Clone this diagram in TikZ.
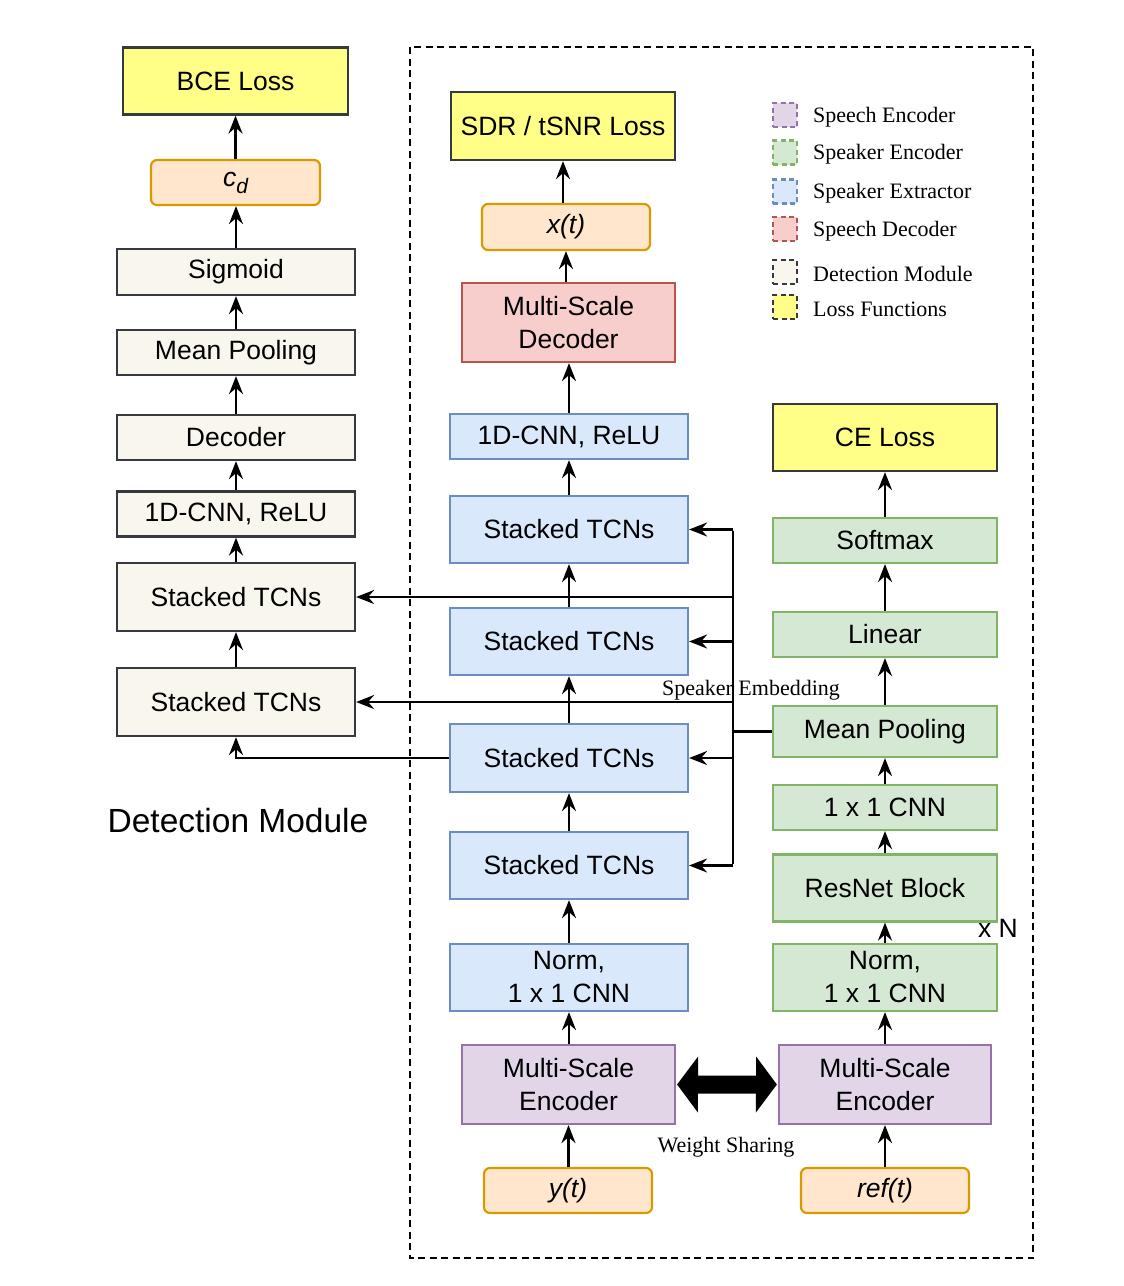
\documentclass[tikz,border=0pt]{standalone}
\usepackage{fontspec}
\setmainfont{Liberation Serif}
\setsansfont{Liberation Sans}
\usetikzlibrary{arrows.meta,calc}
\definecolor{ylwF}{HTML}{FFFF88}
\definecolor{ylwD}{HTML}{36393D}
\definecolor{orgF}{HTML}{FFE6CC}
\definecolor{orgD}{HTML}{D79B00}
\definecolor{detF}{HTML}{F9F7ED}
\definecolor{detD}{HTML}{36393D}
\definecolor{bluF}{HTML}{DAE8FC}
\definecolor{bluD}{HTML}{6C8EBF}
\definecolor{redF}{HTML}{F8CECC}
\definecolor{redD}{HTML}{B85450}
\definecolor{grnF}{HTML}{D5E8D4}
\definecolor{grnD}{HTML}{82B366}
\definecolor{purF}{HTML}{E1D5E7}
\definecolor{purD}{HTML}{9673A6}
\begin{document}
\begin{tikzpicture}[x=1pt,y=-1pt,
  blk/.style={draw, line width=2.2pt, inner sep=0pt, align=center,
    font=\sffamily\fontsize{26.5}{33}\selectfont},
  loss/.style={blk, fill=ylwF, draw=ylwD},
  sig/.style={blk, fill=orgF, draw=orgD, rounded corners=6pt, font=\sffamily\itshape\fontsize{26.5}{33}\selectfont},
  det/.style={blk, fill=detF, draw=detD},
  ext/.style={blk, fill=bluF, draw=bluD},
  dec/.style={blk, fill=redF, draw=redD},
  spk/.style={blk, fill=grnF, draw=grnD},
  enc/.style={blk, fill=purF, draw=purD},
  arr/.style={line width=2.4pt, -{Stealth[length=18pt,width=14pt,inset=6pt]}},
  ln/.style={line width=2.4pt},
  leg/.style={line width=2.2pt, dash pattern=on 5pt off 3.5pt, minimum width=24pt, minimum height=24pt, inner sep=0pt},
  legtxt/.style={anchor=west, font=\fontsize{22}{26}\selectfont, inner sep=0pt}
]
\useasboundingbox (0,0) rectangle (1124,1286);

% dashed frame
\draw[line width=2pt, dash pattern=on 7pt off 4.5pt] (410,47) rectangle (1033,1258);

% ---------- Detection module (left) ----------
\node[loss, minimum width=225pt, minimum height=67pt] (bce) at (235.5,81) {BCE Loss};
\node[sig, minimum width=169pt, minimum height=45pt] (cd) at (235.5,182.5) {c\raisebox{-7pt}{\fontsize{21}{21}\selectfont d}};
\node[det, minimum width=238pt, minimum height=46pt] (sigm) at (236,272) {Sigmoid};
\node[det, minimum width=238pt, minimum height=45pt] (lmp) at (236,352.5) {Mean Pooling};
\node[det, minimum width=238pt, minimum height=45pt] (ldec) at (236,437.5) {Decoder};
\node[det, minimum width=238pt, minimum height=45pt] (lcnn) at (236,514) {1D-CNN, ReLU};
\node[det, minimum width=238pt, minimum height=68pt] (ltcn1) at (236,597) {Stacked TCNs};
\node[det, minimum width=238pt, minimum height=68pt] (ltcn2) at (236,702) {Stacked TCNs};
\node[font=\sffamily\fontsize{33.5}{38}\selectfont, inner sep=0pt] (dmlab) at (238,821) {Detection Module};

\draw[arr] (cd.north) -- (cd.north |- bce.south);
\draw[arr] (sigm.north) -- (sigm.north |- cd.south);
\draw[arr] (lmp.north) -- (sigm.south);
\draw[arr] (ldec.north) -- (lmp.south);
\draw[arr] (lcnn.north) -- (ldec.south);
\draw[arr] (ltcn1.north) -- (lcnn.south);
\draw[arr] (ltcn2.north) -- (ltcn1.south);

% ---------- Speaker extractor (middle) ----------
\node[loss, minimum width=224pt, minimum height=68pt] (sdr) at (563,126) {SDR / tSNR Loss};
\node[sig, minimum width=168pt, minimum height=46pt] (xt) at (566,227) {x(t)};
\node[dec, minimum width=213pt, minimum height=79pt] (mdec) at (568.5,322.5) {Multi-Scale\\Decoder};
\node[ext, minimum width=238pt, minimum height=45pt] (mcnn) at (569,436.5) {1D-CNN, ReLU};
\node[ext, minimum width=238pt, minimum height=67pt] (mtcn1) at (569,529.5) {Stacked TCNs};
\node[ext, minimum width=238pt, minimum height=67pt] (mtcn2) at (569,641.5) {Stacked TCNs};
\node[ext, minimum width=238pt, minimum height=68pt] (mtcn3) at (569,758) {Stacked TCNs};
\node[ext, minimum width=238pt, minimum height=67pt] (mtcn4) at (569,865.5) {Stacked TCNs};
\node[ext, minimum width=238pt, minimum height=67pt] (mnorm) at (569,977.5) {Norm,\\1 x 1 CNN};
\node[enc, minimum width=213pt, minimum height=79pt] (menc) at (568.5,1084.5) {Multi-Scale\\Encoder};
\node[sig, minimum width=168pt, minimum height=45pt] (yt) at (568,1190.5) {y(t)};

\draw[arr] (xt.north -| sdr.south) -- (sdr.south);
\draw[arr] (mdec.north -| xt.south) -- (xt.south);
\draw[arr] (mcnn.north) -- (mcnn.north |- mdec.south);
\draw[arr] (mtcn1.north) -- (mcnn.south);
\draw[arr] (mtcn2.north) -- (mtcn1.south);
\draw[arr] (mtcn3.north) -- (mtcn2.south);
\draw[arr] (mtcn4.north) -- (mtcn3.south);
\draw[arr] (mnorm.north) -- (mtcn4.south);
\draw[arr] (menc.north -| mnorm.south) -- (mnorm.south);
\draw[arr] (yt.north -| menc.south) -- (menc.south);

% ---------- Speaker encoder (right) ----------
\node[loss, minimum width=224pt, minimum height=67pt] (ce) at (885,437.5) {CE Loss};
\node[spk, minimum width=224pt, minimum height=45pt] (soft) at (885,540.5) {Softmax};
\node[spk, minimum width=224pt, minimum height=45pt] (lin) at (885,634.5) {Linear};
\node[spk, minimum width=224pt, minimum height=51pt] (rmp) at (885,731.5) {Mean Pooling};
\node[spk, minimum width=224pt, minimum height=45pt] (rcnn) at (885,807.5) {1 x 1 CNN};
\node[spk, minimum width=224pt, minimum height=67pt] (res) at (885,888) {ResNet Block};
\node[spk, minimum width=224pt, minimum height=67pt] (rnorm) at (885,977.5) {Norm,\\1 x 1 CNN};
\node[enc, minimum width=212pt, minimum height=79pt] (renc) at (885,1084.5) {Multi-Scale\\Encoder};
\node[sig, minimum width=168pt, minimum height=45pt] (reft) at (885,1190.5) {ref(t)};
\node[font=\sffamily\fontsize{26.5}{30}\selectfont, inner sep=0pt] (xn) at (998,928) {x N};

\draw[arr] (soft.north) -- (ce.south);
\draw[arr] (lin.north) -- (soft.south);
\draw[arr] (rmp.north) -- (lin.south);
\draw[arr] (rcnn.north) -- (rmp.south);
\draw[arr] (res.north) -- (rcnn.south);
\draw[arr] (rnorm.north) -- (res.south);
\draw[arr] (renc.north) -- (rnorm.south);
\draw[arr] (reft.north) -- (renc.south);

% ---------- Speaker embedding bus ----------
\node[font=\fontsize{22}{26}\selectfont, inner sep=0pt] (selab) at (751,690) {Speaker Embedding};
\coordinate (bt) at (733,529.5);
\coordinate (bb) at (733,865.5);
\coordinate (bj) at (733,731.5);
\draw[ln] ([yshift=-1.2pt]bt) -- ([yshift=1.2pt]bb);
\draw[ln] (rmp.west) -- (bj);
\draw[arr] (bt) -- (mtcn1.east);
\draw[arr] (bt |- mtcn2.east) -- (mtcn2.east);
\draw[arr] (bt |- mtcn3.east) -- (mtcn3.east);
\draw[arr] (bb) -- (mtcn4.east);
\draw[arr] (bt |- ltcn1.east) -- (ltcn1.east);
\draw[arr] (bt |- ltcn2.east) -- (ltcn2.east);
\draw[arr] (mtcn3.west) -| (ltcn2.south);

% ---------- Weight sharing ----------
\fill[black] ([xshift=1pt]menc.east) -- ++(21,-28) -- ++(0,19) -- ++(58,0) -- ++(0,-19)
  -- ([xshift=-1pt]renc.west) -- ++(-21,28) -- ++(0,-19) -- ++(-58,0) -- ++(0,19) -- cycle;
\node[font=\fontsize{22}{26}\selectfont, inner sep=0pt] (wslab) at (726,1147) {Weight Sharing};

% ---------- Legend ----------
\node[leg, draw=purD, fill=purF] (l1) at (785,115) {};
\node[legtxt] at (813,117) {Speech Encoder};
\node[leg, draw=grnD, fill=grnF] (l2) at (785,152.5) {};
\node[legtxt] at (813,154.5) {Speaker Encoder};
\node[leg, draw=bluD, fill=bluF] (l3) at (785,191.5) {};
\node[legtxt] at (813,193.5) {Speaker Extractor};
\node[leg, draw=redD, fill=redF] (l4) at (785,229) {};
\node[legtxt] at (813,231) {Speech Decoder};
\node[leg, draw=detD, fill=detF] (l5) at (785,272) {};
\node[legtxt] at (813,274) {Detection Module};
\node[leg, draw=ylwD, fill=ylwF] (l6) at (785,307) {};
\node[legtxt] at (813,309) {Loss Functions};
\end{tikzpicture}
\end{document}
